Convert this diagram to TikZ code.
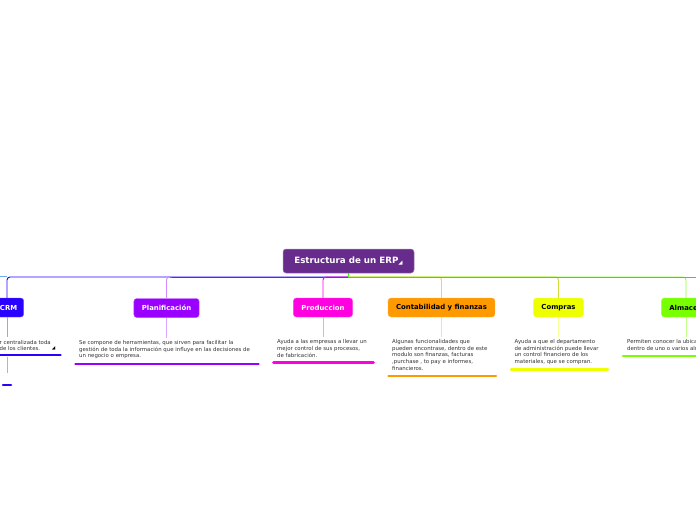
\documentclass[tikz,border=0pt]{standalone}
\usepackage{fontspec}
\setmainfont{DejaVu Sans}
\definecolor{rootc}{RGB}{103,43,140}
\definecolor{crmc}{RGB}{42,0,255}
\definecolor{planc}{RGB}{153,0,255}
\definecolor{prodc}{RGB}{255,0,225}
\definecolor{contc}{RGB}{255,153,0}
\definecolor{compc}{RGB}{238,255,0}
\definecolor{almc}{RGB}{120,255,0}
\definecolor{greenl}{RGB}{40,235,0}
\definecolor{skyl}{RGB}{110,170,255}
\tikzset{
  topic/.style={rounded corners=3pt, inner xsep=8pt, inner ysep=0pt, minimum height=19pt,
    font=\fontsize{6.9}{7.5}\selectfont\bfseries, draw=#1!70!white, line width=0.4pt, fill=#1},
  desc/.style={anchor=north west, inner sep=0pt, align=left,
    font=\fontsize{5.4}{6.6}\selectfont, text=black!80},
  uline/.style={line width=2.6pt, line cap=round},
  conn/.style={line width=0.9pt, rounded corners=3pt},
  stem/.style={line width=0.9pt},
}
\begin{document}
\begin{tikzpicture}[x=1pt,y=-1pt]
\useasboundingbox (0,0) rectangle (696,520);
\fill[white] (0,0) rectangle (696,520);
\clip (0,0) rectangle (696,520);

% root
\node[rounded corners=3pt, fill=rootc, draw=rootc!60!white, line width=0.5pt,
  minimum width=131pt, minimum height=24pt, text=white,
  font=\fontsize{8.7}{9}\selectfont\bfseries] (root) at (348.5,261)
  {Estructura de un ERP\raisebox{-0.3pt}{\fontsize{5.5}{5}\selectfont ◢}};
\coordinate (hub) at (348,277);

% topics
\node[topic=crmc, text=white, inner xsep=6.5pt] (crm) at (8.6,307.5) {CRM};
\node[topic=planc, text=white] (plan) at (166.5,308) {Planificación};
\node[topic=prodc, text=white] (prod) at (323,307.5) {Produccion};
\node[topic=contc, text=black] (cont) at (441.5,307.5) {Contabilidad y finanzas};
\node[topic=compc, text=black] (comp) at (558.5,307.5) {Compras};
\node[topic=almc, text=black] (alm) at (686,307.5) {Almacen};
\coordinate (crmtop) at (7,298);

% connectors left
\draw[stem, skyl] (-10,276) -- (7,276);
\draw[conn, crmc] (hub) -| (crmtop);
\draw[conn, planc] (hub) -- (170,277);
\draw[conn, planc!45!white] (172,277) -| (plan.north);
\draw[conn, planc] (hub) -- (175,277);
\draw[conn, prodc] (hub) -| (prod.north);
% connectors right
\draw[conn, contc!55!white] (hub) -| (cont.north);
\draw[conn, compc!70!gray!90!white] (hub) -| (comp.north);
\draw[conn, almc!80!white] (hub) -| (alm.north);
\draw[stem, greenl] (hub) -- (700,277);
\draw[stem, greenl] (root.south) -- (hub);

% stems below topics
\draw[stem, crmc!40!white] (crm.south -| crmtop) -- ++(0,20);
\draw[stem, planc!35!white] (plan.south) -- ++(0,20);
\draw[stem, prodc!40!white] (prod.south) -- ++(0,20);
\draw[stem, contc!35!white] (cont.south) -- ++(0,20);
\draw[stem, compc!40!white] (comp.south) -- ++(0,20);
\draw[stem, almc!45!white] (alm.south) -- ++(0,20);

% descriptions
\node[desc] (crmd) at (-0.5,339.8) {r centralizada toda\\de los clientes.};
\node[inner sep=0pt, font=\fontsize{4.5}{4.5}\selectfont] (crmm) at (53.5,348.5) {◢};
\node[desc] (pland) at (79,340.3) {Se compone de herramientas, que sirven para facilitar la\\gestión de toda la información que influye en las decisiones de\\un negocio o empresa.};
\node[desc] (prodd) at (277,339.6) {Ayuda a las empresas a llevar un\\mejor control de sus procesos,\\de fabricación.};
\node[desc] (contd) at (392,339.3) {Algunas funcionalidades que\\pueden encontrase, dentro de este\\modulo son finanzas, facturas\\,purchase , to pay e informes,\\financieros.};
\node[desc] (compd) at (514.5,339.3) {Ayuda a que el departamento\\de administración puede llevar\\un control financiero de los\\materiales, que se compran.};
\node[desc] (almd) at (627,339.3) {Permiten conocer la ubicación\\dentro de uno o varios almacenes};

% underlines
\draw[uline, crmc] (-5,355) -- (60.5,355);
\draw[uline, planc] (75.5,364) -- (258.5,364);
\draw[uline, prodc] (273.5,362.5) -- (373.5,362.5);
\draw[uline, contc] (388.5,376) -- (496,376);
\draw[uline, compc] (511,369.3) -- (608,369.3);
\draw[uline, almc] (623,356) -- (705,356);

% CRM tail
\draw[stem, crmc!35!white] (7,356.5) -- (7,372.5);
\draw[uline, crmc] (3,385) -- (11,385);
\end{tikzpicture}
\end{document}
